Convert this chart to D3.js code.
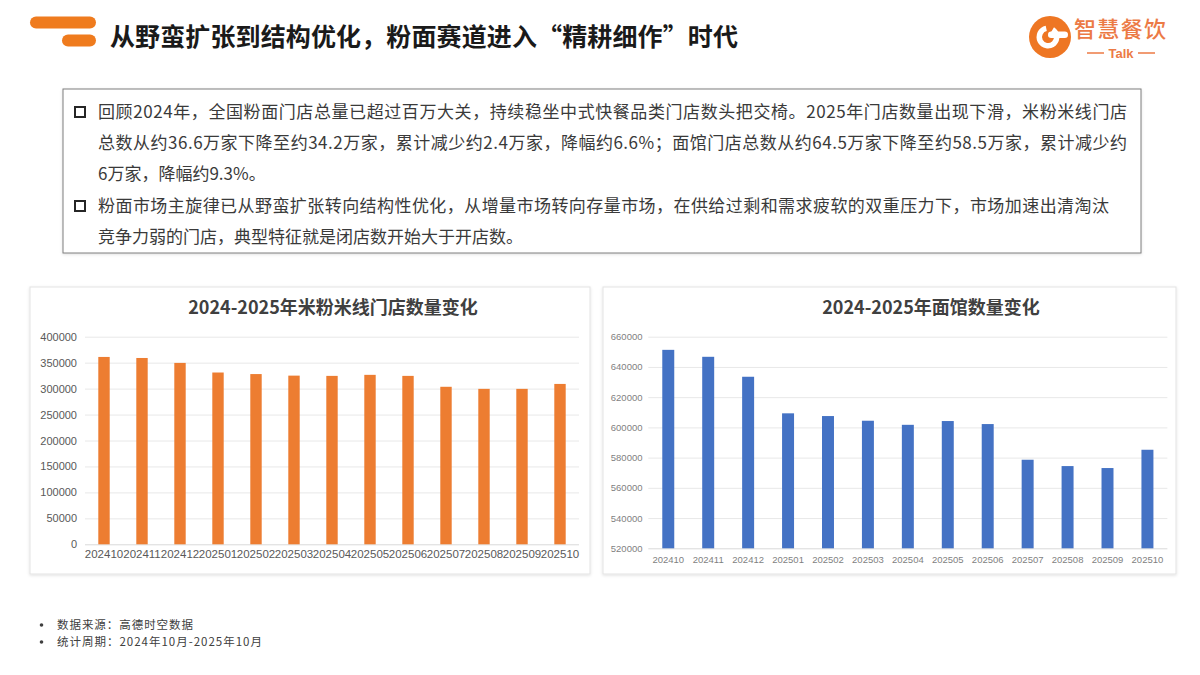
<!DOCTYPE html>
<html>
<head>
<meta charset="utf-8">
<script src="https://cdn.jsdelivr.net/npm/d3@7/dist/d3.min.js"></script>
<style>
  html, body { margin: 0; padding: 0; background: #fff; }
  svg { display: block; font-family: "Noto Sans CJK SC", "Noto Sans", sans-serif; }
</style>
</head>
<body>
<svg id="chart" width="1200" height="675"></svg>
<script>
// ---------- data ----------
const months = ["202410","202411","202412","202501","202502","202503","202504","202505","202506","202507","202508","202509","202510"];
const riceNoodleStores = [361000, 359000, 349500, 331000, 328000, 325000, 324500, 326500, 324500, 303500, 299500, 299500, 309000];
const noodleShopStores = [651300, 646700, 633500, 609300, 607500, 604400, 601700, 604200, 602200, 578600, 574400, 573100, 585200];
const riceTicks = [0, 50000, 100000, 150000, 200000, 250000, 300000, 350000, 400000];
const noodleTicks = [520000, 540000, 560000, 580000, 600000, 620000, 640000, 660000];

const pageTitle = "从野蛮扩张到结构优化，粉面赛道进入“精耕细作”时代";
const riceTitle = "2024-2025年米粉米线门店数量变化";
const noodleTitle = "2024-2025年面馆数量变化";
const bulletLines = [
  {bullet: true,  text: "回顾2024年，全国粉面门店总量已超过百万大关，持续稳坐中式快餐品类门店数头把交椅。2025年门店数量出现下滑，米粉米线门店", fit: 1029},
  {bullet: false, text: "总数从约36.6万家下降至约34.2万家，累计减少约2.4万家，降幅约6.6%；面馆门店总数从约64.5万家下降至约58.5万家，累计减少约", fit: 1029},
  {bullet: false, text: "6万家，降幅约9.3%。", fit: null},
  {bullet: true,  text: "粉面市场主旋律已从野蛮扩张转向结构性优化，从增量市场转向存量市场，在供给过剩和需求疲软的双重压力下，市场加速出清淘汰", fit: 1011},
  {bullet: false, text: "竞争力弱的门店，典型特征就是闭店数开始大于开店数。", fit: null}
];
const footnotes = ["数据来源：高德时空数据", "统计周期：2024年10月-2025年10月"];

// ---------- page ----------
const svg = d3.select("#chart");
const defs = svg.append("defs");
const sh = defs.append("filter").attr("id", "shadow").attr("x", "-5%").attr("y", "-5%").attr("width", "110%").attr("height", "110%");
sh.append("feDropShadow").attr("dx", 0).attr("dy", 1).attr("stdDeviation", 1.6)
  .attr("flood-color", "#000").attr("flood-opacity", 0.12);

svg.append("rect").attr("width", 1200).attr("height", 675).attr("fill", "#fff");

// header mark
const orange = "#EF7B1E";
svg.append("rect").attr("x", 30).attr("y", 16.5).attr("width", 66).attr("height", 12).attr("rx", 6).attr("fill", orange);
svg.append("rect").attr("x", 62).attr("y", 34.5).attr("width", 34).attr("height", 12).attr("rx", 6).attr("fill", orange);
svg.append("text").attr("x", 110).attr("y", 45.5).attr("font-size", 25).attr("font-weight", 700)
  .attr("fill", "#1a1a1a").attr("textLength", 628).attr("lengthAdjust", "spacing").text(pageTitle);

// logo
const logo = svg.append("g");
logo.append("circle").attr("cx", 1050).attr("cy", 37).attr("r", 21).attr("fill", "#EE7623");
logo.append("path")
  .attr("d", d3.arc()({innerRadius: 6, outerRadius: 11.5, startAngle: 0.55, endAngle: 2 * Math.PI - 0.2}))
  .attr("transform", "translate(1048,37)").attr("fill", "#fff");
logo.append("rect").attr("x", 1048).attr("y", 31.5).attr("width", 20).attr("height", 6.5).attr("rx", 3.2).attr("fill", "#fff");
logo.append("text").attr("x", 1120).attr("y", 37).attr("text-anchor", "middle").attr("font-size", 22)
  .attr("font-weight", 500).attr("fill", "#EC7A45").attr("textLength", 92).attr("lengthAdjust", "spacing").text("智慧餐饮");
logo.append("line").attr("x1", 1087).attr("x2", 1104).attr("y1", 53).attr("y2", 53).attr("stroke", "#EC7A45").attr("stroke-width", 1.5);
logo.append("line").attr("x1", 1138).attr("x2", 1155).attr("y1", 53).attr("y2", 53).attr("stroke", "#EC7A45").attr("stroke-width", 1.5);
logo.append("text").attr("x", 1121).attr("y", 58).attr("text-anchor", "middle").attr("font-size", 13)
  .attr("font-family", "Liberation Sans, Arial, sans-serif").attr("font-weight", 700).attr("fill", "#EC7A45").text("Talk");

// text box
svg.append("rect").attr("x", 63).attr("y", 89).attr("width", 1078).attr("height", 164)
  .attr("fill", "#fff").attr("stroke", "#7f7f7f").attr("stroke-width", 1).attr("filter", "url(#shadow)");
const lineY = [112, 143, 174, 206, 237];
bulletLines.forEach((l, i) => {
  const cy = lineY[i];
  if (l.bullet) {
    svg.append("rect").attr("x", 75).attr("y", cy - 5).attr("width", 10).attr("height", 10)
      .attr("fill", "none").attr("stroke", "#262626").attr("stroke-width", 2);
  }
  const t = svg.append("text").attr("x", 98).attr("y", cy + 6.3).attr("font-size", 17)
    .attr("fill", "#3a3a3a").text(l.text);
  if (l.fit) t.attr("textLength", l.fit).attr("lengthAdjust", "spacing");
});

// ---------- charts ----------
function barChart(cfg) {
  const g = svg.append("g");
  g.append("rect").attr("x", cfg.box[0]).attr("y", cfg.box[1]).attr("width", cfg.box[2]).attr("height", cfg.box[3])
    .attr("fill", "#fff").attr("stroke", "#e3e3e3").attr("stroke-width", 1).attr("filter", "url(#shadow)");
  g.append("text").attr("x", cfg.titleX).attr("y", cfg.titleY).attr("text-anchor", "middle")
    .attr("font-size", 18).attr("font-weight", 700).attr("fill", "#404040").text(cfg.title);

  const x = d3.scaleBand().domain(months).range(cfg.xRange).paddingInner(0.7).paddingOuter(0.35);
  const y = d3.scaleLinear().domain([cfg.ticks[0], cfg.ticks[cfg.ticks.length - 1]]).range(cfg.yRange);

  // gridlines
  const grid = g.append("g").attr("transform", `translate(${cfg.xRange[0]},0)`)
    .call(d3.axisLeft(y).tickValues(cfg.ticks).tickSize(-(cfg.xRange[1] - cfg.xRange[0])).tickFormat(""));
  grid.select(".domain").remove();
  grid.selectAll("line").attr("stroke", "#e8e8e8").attr("stroke-width", 1);
  grid.selectAll(".tick").filter(d => d === cfg.ticks[0]).select("line").attr("stroke", "#d9d9d9");

  // y axis labels
  const ya = g.append("g").attr("transform", `translate(${cfg.yLabelX},0)`)
    .call(d3.axisLeft(y).tickValues(cfg.ticks).tickSize(0).tickPadding(0).tickFormat(d3.format("d")));
  ya.select(".domain").remove();
  ya.selectAll("text").attr("font-family", "Liberation Sans, Arial, sans-serif")
    .attr("font-size", cfg.yFont).attr("fill", cfg.labelColor);

  // bars
  g.append("g").selectAll("rect").data(cfg.values).join("rect")
    .attr("x", (d, i) => x(months[i])).attr("width", x.bandwidth())
    .attr("y", d => y(d)).attr("height", d => y(cfg.ticks[0]) - y(d))
    .attr("fill", cfg.color);

  // x axis labels
  const xa = g.append("g").attr("transform", `translate(0,${cfg.xLabelY})`)
    .call(d3.axisBottom(x).tickSize(0).tickPadding(0));
  xa.select(".domain").remove();
  xa.selectAll("text").attr("font-family", "Liberation Sans, Arial, sans-serif")
    .attr("font-size", cfg.xFont).attr("fill", cfg.labelColor).attr("dy", "0.35em").attr("y", 0);
}

barChart({
  box: [30, 287, 560, 287], title: riceTitle, titleX: 333, titleY: 314,
  xRange: [85, 579], yRange: [544.3, 336.7], ticks: riceTicks, values: riceNoodleStores,
  color: "#ED7D31", yLabelX: 77, yFont: 11, xFont: 11.5, xLabelY: 554, labelColor: "#595959"
});
barChart({
  box: [603, 287, 573, 287], title: noodleTitle, titleX: 931, titleY: 314,
  xRange: [648.3, 1167.4], yRange: [548.3, 336.7], ticks: noodleTicks, values: noodleShopStores,
  color: "#4472C4", yLabelX: 642.5, yFont: 9.5, xFont: 9.5, xLabelY: 560, labelColor: "#7f7f7f"
});

// footnotes
const footFit = [136, 205];
footnotes.forEach((f, i) => {
  const cy = 625 + i * 17;
  svg.append("circle").attr("cx", 41.5).attr("cy", cy).attr("r", 1.8).attr("fill", "#404040");
  svg.append("text").attr("x", 57).attr("y", cy + 4.2).attr("font-size", 11.5).attr("fill", "#404040")
    .attr("textLength", footFit[i]).attr("lengthAdjust", "spacing").text(f);
});
</script>
</body>
</html>
